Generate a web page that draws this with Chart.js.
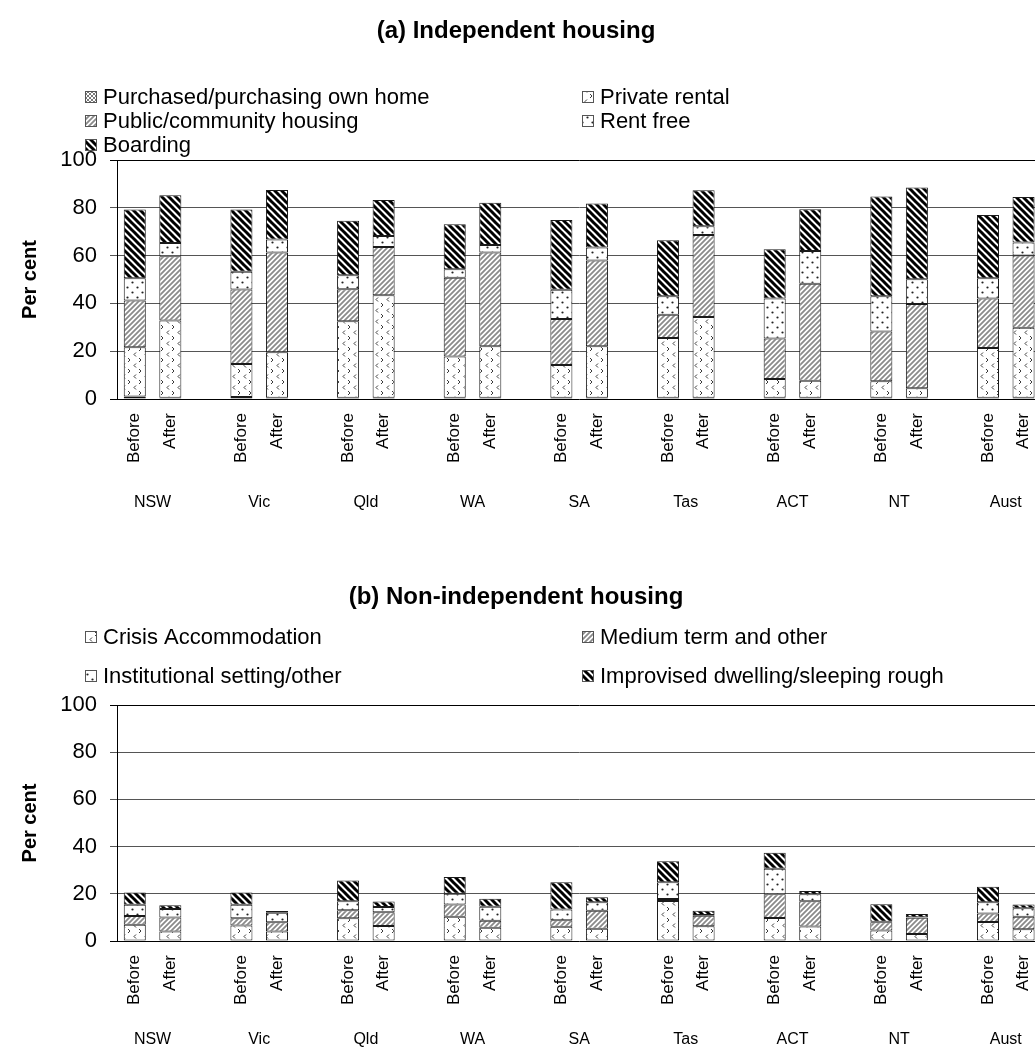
<!DOCTYPE html>
<html>
<head>
<meta charset="utf-8">
<title>Housing before and after support</title>
<script src="https://cdn.jsdelivr.net/npm/chart.js@4.4.0/dist/chart.umd.min.js"></script>
<style>
  html, body { margin: 0; padding: 0; background: #fff; overflow: hidden; width: 1035px; height: 1054px; }
  .panel { position: absolute; left: 0; }
  #panelA { top: 0; }
  #panelB { top: 527px; }
</style>
</head>
<body>
<div class="panel" id="panelA"><canvas id="chartA" width="1050" height="527"></canvas></div>
<div class="panel" id="panelB"><canvas id="chartB" width="1050" height="527"></canvas></div>
<script>
// ---- Categories and tick labels ----
const states = ['NSW', 'Vic', 'Qld', 'WA', 'SA', 'Tas', 'ACT', 'NT', 'Aust'];
const periods = ['Before', 'After'];
const yTicks = [0, 20, 40, 60, 80, 100];

// ---- (a) Independent housing, per cent: Before, After for each state ----
const purchased     = [1.0, 0.5,  0.8, 0.5,  0.5, 0.5,  0.5, 0.5,  0.5, 0.5,  0.5, 0.5,  0.5, 0.5,  0.5, 0.5,  0.5, 0.5];
const privateRental = [20.7, 32.3, 13.8, 19.1, 32.0, 42.9, 17.3, 21.6, 13.7, 21.6, 25.0, 33.8, 7.9, 7.1, 6.9, 4.0, 20.8, 29.3];
const publicHousing = [19.5, 26.9, 31.2, 41.7, 13.4, 20.2, 32.9, 39.2, 19.3, 35.8, 9.7, 34.3, 16.9, 40.6, 20.8, 35.3, 20.8, 30.2];
const rentFree      = [9.3, 5.6,  7.4, 5.4,  5.9, 4.6,  3.6, 3.1,  12.2, 5.5, 7.8, 3.7,  16.8, 13.7, 14.8, 10.3, 8.4, 5.5];
const boarding      = [28.8, 19.9, 26.1, 20.8, 22.8, 15.1, 18.8, 17.7, 29.2, 18.4, 23.4, 15.0, 20.6, 17.5, 41.7, 38.4, 26.5, 19.0];

// ---- (b) Non-independent housing, per cent: Before, After for each state ----
const crisis        = [6.9, 4.0,  6.6, 4.0,  9.6, 6.4,  10.3, 5.6, 6.0, 5.2,  16.9, 6.3, 9.7, 6.1,  4.5, 3.0,  8.1, 5.0];
const mediumTerm    = [3.7, 6.0,  3.0, 3.9,  3.4, 5.8,  5.2, 3.0,  2.8, 7.6,  0.9, 4.4,  10.1, 10.7, 3.4, 6.8, 3.6, 5.3];
const institutional = [4.8, 3.6,  5.8, 4.1,  3.8, 2.2,  4.5, 5.9,  4.5, 3.6,  7.1, 0.3,  10.8, 3.0, 0.3, 0.3,  4.7, 3.6];
const improvised    = [5.2, 1.5,  5.2, 0.7,  8.8, 2.3,  7.1, 3.4,  11.6, 2.1, 8.9, 1.8,  6.8, 1.4,  7.4, 1.3,  6.6, 1.6];

const FONT = "'Liberation Sans', Arial, Helvetica, sans-serif";

// Slots on the category axis: Before, After, spacer (no spacer after the last state)
const slotLabels = [];
states.forEach((s, i) => {
  periods.forEach(p => slotLabels.push(p));
  if (i < states.length - 1) slotLabels.push('');
});
function toSlots(values) {
  const out = [];
  states.forEach((s, i) => {
    out.push(values[2 * i], values[2 * i + 1]);
    if (i < states.length - 1) out.push(null);
  });
  return out;
}

// ---- Fill patterns ----
function tile(w, h, draw) {
  const c = document.createElement('canvas');
  c.width = w; c.height = h;
  const g = c.getContext('2d');
  g.fillStyle = '#fff';
  g.fillRect(0, 0, w, h);
  draw(g, w, h);
  return c;
}
const tiles = {
  cross: tile(4, 4, g => {
    g.strokeStyle = '#7a7a7a'; g.lineWidth = 1;
    g.beginPath();
    g.moveTo(0, 0); g.lineTo(4, 4); g.moveTo(4, 0); g.lineTo(0, 4);
    g.stroke();
  }),
  chevron: tile(11, 11, g => {
    g.strokeStyle = '#3a3a3a'; g.lineWidth = 1;
    g.beginPath();
    g.moveTo(4, 0.5); g.lineTo(2, 2.5); g.lineTo(4, 4.5);
    g.moveTo(7, 6); g.lineTo(9, 8); g.lineTo(7, 10);
    g.stroke();
  }),
  lightDiag: tile(5, 5, g => {
    g.strokeStyle = '#8a8a8a'; g.lineWidth = 1.8;
    g.beginPath();
    for (let k = -1; k <= 1; k++) { g.moveTo(k * 5 - 1, 6); g.lineTo(k * 5 + 6, -1); }
    g.stroke();
  }),
  dots: tile(10, 10, g => {
    g.fillStyle = '#222';
    g.beginPath(); g.arc(2.5, 2.5, 1.1, 0, Math.PI * 2); g.fill();
    g.beginPath(); g.arc(7.5, 7.5, 1.1, 0, Math.PI * 2); g.fill();
  }),
  darkDiag: tile(7, 7, g => {
    g.strokeStyle = '#000'; g.lineWidth = 3;
    g.beginPath();
    for (let k = -1; k <= 1; k++) { g.moveTo(k * 7 - 1, -1); g.lineTo(k * 7 + 8, 8); }
    g.stroke();
  })
};
function pattern(ctx, name) { return ctx.createPattern(tiles[name], 'repeat'); }

// ---- Titles, legends, state names and axis title ----
const panelDecor = {
  id: 'panelDecor',
  afterDraw(chart, args, opts) {
    const ctx = chart.ctx;
    const area = chart.chartArea;
    const x = chart.scales.x;
    ctx.save();
    ctx.fillStyle = '#000';
    ctx.textBaseline = 'middle';

    // panel title
    ctx.font = 'bold 24px ' + FONT;
    ctx.textAlign = 'center';
    ctx.fillText(opts.title, 516, opts.titleY);

    // legend
    ctx.font = '22px ' + FONT;
    ctx.textAlign = 'left';
    opts.legend.forEach((item, i) => {
      const ds = chart.data.datasets[i];
      const bx = opts.boxX[item.col];
      const by = opts.rowY[item.row];
      ctx.fillStyle = ds.backgroundColor;
      ctx.fillRect(bx, by - 6, 12, 12);
      ctx.strokeStyle = '#555';
      ctx.lineWidth = 1;
      ctx.strokeRect(bx + 0.5, by - 5.5, 11, 11);
      ctx.fillStyle = '#000';
      ctx.fillText(ds.label, bx + 18, by + 1);
    });

    // state names under each Before/After pair
    ctx.font = '16px ' + FONT;
    ctx.textAlign = 'center';
    states.forEach((s, i) => {
      const cx = (x.getPixelForValue(i * 3) + x.getPixelForValue(i * 3 + 1)) / 2;
      ctx.fillText(s, cx, area.bottom + opts.stateOffset);
    });

    // y axis title
    ctx.font = 'bold 20px ' + FONT;
    ctx.translate(30, (area.top + area.bottom) / 2);
    ctx.rotate(-Math.PI / 2);
    ctx.fillText('Per cent', 0, 0);
    ctx.restore();
  }
};

function makeChart(canvasId, seriesDefs, decor, padTop, xHeight) {
  const ctx = document.getElementById(canvasId).getContext('2d');
  return new Chart(ctx, {
    type: 'bar',
    data: {
      labels: slotLabels,
      datasets: seriesDefs.map(d => ({
        label: d.label,
        data: toSlots(d.values),
        backgroundColor: pattern(ctx, d.fill),
        borderColor: '#1a1a1a',
        borderWidth: 1,
        borderSkipped: false,
        categoryPercentage: 1.0,
        barPercentage: 0.62
      }))
    },
    options: {
      responsive: false,
      animation: false,
      events: [],
      layout: { padding: { top: padTop, left: 0, right: 3, bottom: 0 } },
      plugins: {
        legend: { display: false },
        title: { display: false },
        tooltip: { enabled: false },
        panelDecor: decor
      },
      scales: {
        x: {
          stacked: true,
          grid: { display: false },
          border: { display: false },
          ticks: {
            autoSkip: false,
            maxRotation: 90,
            minRotation: 90,
            color: '#000',
            padding: 6,
            font: { family: FONT, size: 17 }
          },
          afterFit(scale) { scale.height = xHeight; }
        },
        y: {
          stacked: true,
          min: 0,
          max: 100,
          afterBuildTicks(scale) { scale.ticks = yTicks.map(v => ({ value: v })); },
          ticks: { color: '#000', padding: 13, font: { family: FONT, size: 22 } },
          grid: {
            color: c => (c.tick && (c.tick.value === 0 || c.tick.value === 100)) ? '#000' : '#555',
            lineWidth: 1,
            tickLength: 7,
            drawTicks: true
          },
          border: { display: true, color: '#000', width: 1 },
          afterFit(scale) { scale.width = 117; }
        }
      }
    },
    plugins: [panelDecor]
  });
}

makeChart('chartA', [
  { label: 'Purchased/purchasing own home', values: purchased, fill: 'cross' },
  { label: 'Private rental', values: privateRental, fill: 'chevron' },
  { label: 'Public/community housing', values: publicHousing, fill: 'lightDiag' },
  { label: 'Rent free', values: rentFree, fill: 'dots' },
  { label: 'Boarding', values: boarding, fill: 'darkDiag' }
], {
  title: '(a) Independent housing',
  titleY: 31,
  rowY: [97, 121, 145],
  boxX: [85, 582],
  legend: [
    { row: 0, col: 0 }, { row: 0, col: 1 },
    { row: 1, col: 0 }, { row: 1, col: 1 },
    { row: 2, col: 0 }
  ],
  stateOffset: 104
}, 160, 128);

makeChart('chartB', [
  { label: 'Crisis Accommodation', values: crisis, fill: 'chevron' },
  { label: 'Medium term and other', values: mediumTerm, fill: 'lightDiag' },
  { label: 'Institutional setting/other', values: institutional, fill: 'dots' },
  { label: 'Improvised dwelling/sleeping rough', values: improvised, fill: 'darkDiag' }
], {
  title: '(b) Non-independent housing',
  titleY: 70,
  rowY: [110, 149],
  boxX: [85, 582],
  legend: [
    { row: 0, col: 0 }, { row: 0, col: 1 },
    { row: 1, col: 0 }, { row: 1, col: 1 }
  ],
  stateOffset: 99
}, 178, 113);
</script>
</body>
</html>
